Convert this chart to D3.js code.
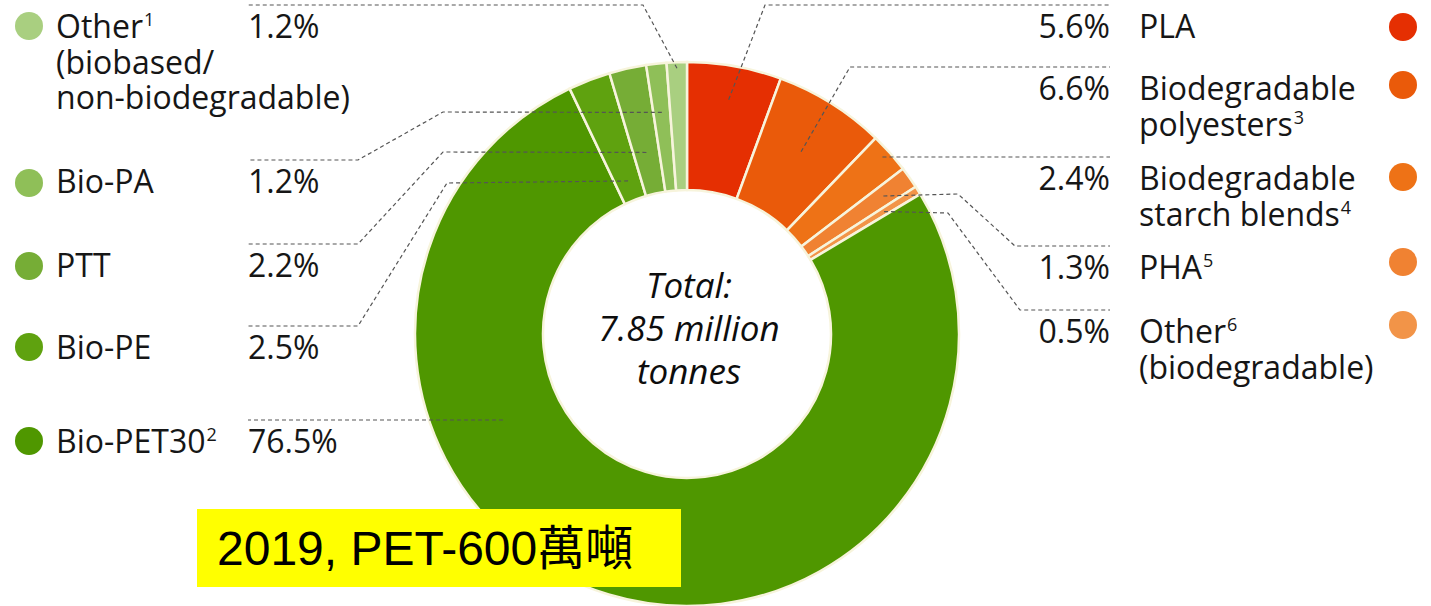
<!DOCTYPE html>
<html>
<head>
<meta charset="utf-8">
<script src="https://cdn.jsdelivr.net/npm/d3@7"></script>
<style>
  body { margin: 0; background: #fff; }
  svg { display: block; }
  .lbl { font-family: "Open Sans", sans-serif; font-size: 32px; fill: #161616; }
  .ctr { font-family: "Open Sans", sans-serif; font-style: italic; font-size: 35px; fill: #0d0d0d; }
</style>
</head>
<body>
<svg width="1431" height="606"></svg>
<script>
// data (clockwise from 12 o'clock)
var categories = ["PLA", "Biodegradable polyesters", "Biodegradable starch blends", "PHA", "Other (biodegradable)",
                  "Bio-PET30", "Bio-PE", "PTT", "Bio-PA", "Other (biobased/non-biodegradable)"];
var shares = [5.6, 6.6, 2.4, 1.3, 0.5, 76.5, 2.5, 2.2, 1.2, 1.2];
// legend text, [text, superscript] per line
var labelLines = [
  [["PLA", ""]],
  [["Biodegradable", ""], ["polyesters", "3"]],
  [["Biodegradable", ""], ["starch blends", "4"]],
  [["PHA", "5"]],
  [["Other", "6"], ["(biodegradable)", ""]],
  [["Bio-PET30", "2"]],
  [["Bio-PE", ""]],
  [["PTT", ""]],
  [["Bio-PA", ""]],
  [["Other", "1"], ["(biobased/", ""], ["non-biodegradable)", ""]]
];
var centerLines = ["Total:", "7.85 million", "tonnes"];
var noteText = "2019, PET-600萬噸";

var colors = ["#e52f02", "#ea5a0a", "#ee7216", "#f08232", "#f29448",
              "#4f9700", "#5fa20f", "#76ad36", "#8fbf58", "#a9cf80"];

// layout of the label rows and leader lines
var cx = 687, cy = 334, rOuter = 272, rInner = 144;
var layout = [
  {side: "R", lineY: 5,   anchorR: 238, elbows: [[765, 5]],                 dotY: 27},
  {side: "R", lineY: 67,  anchorR: 215, elbows: [[850, 67]],                dotY: 85},
  {side: "R", lineY: 157, anchorR: 262, elbows: [],                         dotY: 177},
  {side: "R", lineY: 246, anchorR: 240, elbows: [[958, 194], [1015, 246]], dotY: 262},
  {side: "R", lineY: 310, anchorR: 232, elbows: [[948, 213], [1020, 310]], dotY: 325},
  {side: "L", lineY: 420, anchorR: 203, angle: 245, elbows: [],             dotY: 441},
  {side: "L", lineY: 326, anchorR: 164, elbows: [[447, 183], [358, 326]],  dotY: 347},
  {side: "L", lineY: 244, anchorR: 186, elbows: [[443, 152], [358, 244]],  dotY: 266},
  {side: "L", lineY: 160, anchorR: 223, elbows: [[443, 112], [358, 160]],  dotY: 183},
  {side: "L", lineY: 5,   anchorR: 266, elbows: [[643, 5]],                 dotY: 26}
];
var leftPctX = 248, leftTextX = 56, leftDotX = 29;
var rightPctX = 1110, rightTextX = 1139, rightDotX = 1403;

var svg = d3.select("svg");
var fmt = function(v) { return d3.format(".1f")(v) + "%"; };

var pie = d3.pie().sort(null).value(function(d) { return d; });
var arcs = pie(shares);
var arc = d3.arc().innerRadius(rInner).outerRadius(rOuter);

var ring = svg.append("g").attr("transform", "translate(" + cx + "," + cy + ")");
ring.selectAll("path")
  .data(arcs)
  .enter()
  .append("path")
  .attr("d", arc)
  .attr("fill", function(d, i) { return colors[i]; })
  .attr("stroke", "#f7f4dc")
  .attr("stroke-width", 2.5);

// leader lines
var line = d3.line();
svg.append("g").selectAll("path")
  .data(arcs)
  .enter()
  .append("path")
  .attr("d", function(d, i) {
    var L = layout[i];
    var a = L.angle != null ? L.angle * Math.PI / 180 : (d.startAngle + d.endAngle) / 2;
    var p = [[cx + L.anchorR * Math.sin(a), cy - L.anchorR * Math.cos(a)]];
    if (L.elbows.length == 0) p[0][1] = L.lineY;
    L.elbows.forEach(function(e) { p.push(e); });
    p.push(L.side == "R" ? [rightPctX, L.lineY] : [leftPctX, L.lineY]);
    return line(p);
  })
  .attr("fill", "none")
  .attr("stroke", "#555")
  .attr("stroke-width", 1.2)
  .attr("stroke-dasharray", "4,3");

// labels
var rows = svg.append("g").selectAll("g")
  .data(arcs)
  .enter()
  .append("g");

rows.append("circle")
  .attr("cx", function(d, i) { return layout[i].side == "R" ? rightDotX : leftDotX; })
  .attr("cy", function(d, i) { return layout[i].dotY; })
  .attr("r", 14)
  .attr("fill", function(d, i) { return colors[i]; });

rows.append("text")
  .attr("class", "lbl")
  .attr("x", function(d, i) { return layout[i].side == "R" ? rightPctX : leftPctX; })
  .attr("y", function(d, i) { return layout[i].lineY + 33; })
  .attr("text-anchor", function(d, i) { return layout[i].side == "R" ? "end" : "start"; })
  .text(function(d) { return fmt(d.data); });

rows.each(function(d, i) {
  var L = layout[i];
  var t = d3.select(this).append("text")
    .attr("class", "lbl")
    .attr("x", L.side == "R" ? rightTextX : leftTextX)
    .attr("y", L.lineY + 33);
  labelLines[i].forEach(function(ln, k) {
    t.append("tspan")
      .attr("x", L.side == "R" ? rightTextX : leftTextX)
      .attr("y", L.lineY + 33 + k * 35.5)
      .text(ln[0]);
    if (ln[1]) {
      t.append("tspan")
        .attr("dx", 1)
        .attr("dy", -12)
        .attr("font-size", 18)
        .text(ln[1]);
    }
  });
});

// centre text
svg.append("text")
  .attr("class", "ctr")
  .attr("text-anchor", "middle")
  .selectAll("tspan")
  .data(centerLines)
  .enter()
  .append("tspan")
  .attr("x", cx + 2)
  .attr("y", function(d, i) { return 298 + i * 43; })
  .text(function(d) { return d; });

// yellow note
svg.append("rect")
  .attr("x", 197).attr("y", 509)
  .attr("width", 484).attr("height", 78)
  .attr("fill", "#ffff00");
svg.append("text")
  .attr("x", 217).attr("y", 565)
  .attr("font-family", "'Liberation Sans', 'Noto Sans CJK TC', sans-serif")
  .attr("font-size", 48)
  .attr("fill", "#000")
  .text(noteText);
</script>
</body>
</html>
